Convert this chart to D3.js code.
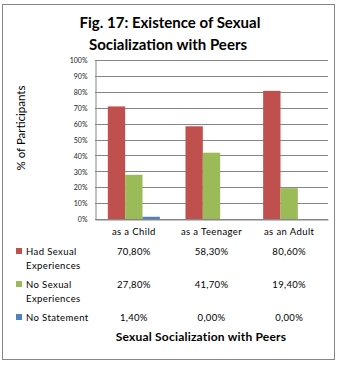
<!DOCTYPE html>
<html>
<head>
<meta charset="utf-8">
<script src="https://cdn.jsdelivr.net/npm/d3@7"></script>
<style>
  html, body { margin: 0; padding: 0; background: #fff; }
  svg { display: block; font-family: Lato, "Open Sans", sans-serif; }
</style>
</head>
<body>
<svg id="chart" width="340" height="365"></svg>
<script>
// Categories (x axis) and series shares in percent
const categories = ["as a Child", "as a Teenager", "as an Adult"];
const seriesNames = [["Had Sexual", "Experiences"], ["No Sexual", "Experiences"], ["No Statement"]];
const hadExperiences = [70.8, 58.3, 80.6];
const noExperiences = [27.8, 41.7, 19.4];
const noStatement = [1.4, 0.0, 0.0];
const seriesColors = ["#C0504D", "#9BBB59", "#4F81BD"];
const yTicks = [0, 10, 20, 30, 40, 50, 60, 70, 80, 90, 100];

const seriesValues = [hadExperiences, noExperiences, noStatement];
const fmt = v => v.toFixed(2).replace(".", ",") + "%";

const svg = d3.select("#chart");

// outer frame
svg.append("rect")
  .attr("x", 2.5).attr("y", 4.5).attr("width", 332).attr("height", 355)
  .attr("fill", "#fff").attr("stroke", "#868686").attr("stroke-width", 1);

// title
const title = svg.append("text")
  .attr("text-anchor", "middle").attr("font-weight", "bold")
  .attr("font-size", 15).attr("fill", "#000");
title.append("tspan").attr("x", 170).attr("y", 28).text("Fig. 17: Existence of Sexual");
title.append("tspan").attr("x", 168).attr("y", 50).text("Socialization with Peers");

const plot = { left: 95, right: 328, top: 60, bottom: 219 };

const y = d3.scaleLinear().domain([0, 100]).range([plot.bottom, plot.top]);
const x0 = d3.scaleBand().domain(categories).range([plot.left, plot.right]).paddingInner(0).paddingOuter(0);
const groupW = x0.bandwidth() * 0.67;
const x1 = d3.scaleBand().domain(d3.range(seriesValues.length)).range([0, groupW]);

// gridlines
svg.append("g")
  .selectAll("line").data(yTicks).join("line")
  .attr("x1", plot.left).attr("x2", plot.right)
  .attr("y1", d => Math.round(y(d)) + 0.5).attr("y2", d => Math.round(y(d)) + 0.5)
  .attr("stroke", "#868686").attr("stroke-width", 1);

// y axis
const yAxis = svg.append("g")
  .attr("transform", `translate(${plot.left + 0.5},0.5)`)
  .call(d3.axisLeft(y).tickValues(yTicks).tickFormat(d => d + "%").tickSize(0).tickPadding(8));
yAxis.select(".domain").attr("stroke", "#868686");
yAxis.selectAll("text").attr("font-size", 7).attr("fill", "#222").attr("font-family", "Lato, sans-serif");

// bars
const groups = svg.append("g").selectAll("g").data(categories).join("g")
  .attr("transform", d => `translate(${x0(d) + (x0.bandwidth() - groupW) / 2},0)`);
groups.selectAll("rect")
  .data((d, i) => seriesValues.map((s, k) => ({ k, v: s[i] })))
  .join("rect")
  .attr("x", d => x1(d.k))
  .attr("width", x1.bandwidth())
  .attr("y", d => y(d.v))
  .attr("height", d => y(0) - y(d.v))
  .attr("fill", d => seriesColors[d.k]);

// x axis
const xAxis = svg.append("g")
  .attr("transform", `translate(0,${plot.bottom + 0.5})`)
  .call(d3.axisBottom(x0).tickSize(0).tickPadding(9));
xAxis.select(".domain").attr("stroke", "#868686");
xAxis.selectAll("text").attr("font-size", 9.5).attr("fill", "#000")
  .attr("font-family", "Lato, sans-serif").attr("letter-spacing", 0.4);

// data table: legend keys and values
const rowY = [255, 288, 321];
const table = svg.append("g");
seriesValues.forEach((vals, k) => {
  table.append("rect")
    .attr("x", 16).attr("y", rowY[k] - 7).attr("width", 6).attr("height", 6)
    .attr("fill", seriesColors[k]);
  const t = table.append("text").attr("font-size", 9.5).attr("fill", "#000").attr("letter-spacing", 0.4);
  seriesNames[k].forEach((line, j) => {
    t.append("tspan").attr("x", 26).attr("y", rowY[k] + j * 14).text(line);
  });
  table.selectAll(null).data(vals).join("text")
    .attr("x", (v, i) => x0(categories[i]) + x0.bandwidth() / 2)
    .attr("y", rowY[k])
    .attr("text-anchor", "middle").attr("font-size", 9.5).attr("fill", "#000")
    .attr("letter-spacing", 0.3)
    .text(fmt);
});

// axis titles
svg.append("text")
  .attr("transform", "translate(25,128) rotate(-90)")
  .attr("text-anchor", "middle").attr("font-size", 11.5).attr("fill", "#000")
  .text("% of Participants");
svg.append("text")
  .attr("x", 201).attr("y", 341).attr("text-anchor", "middle")
  .attr("font-weight", "bold").attr("font-size", 12).attr("fill", "#000")
  .attr("letter-spacing", 0.2)
  .text("Sexual Socialization with Peers");
</script>
</body>
</html>
